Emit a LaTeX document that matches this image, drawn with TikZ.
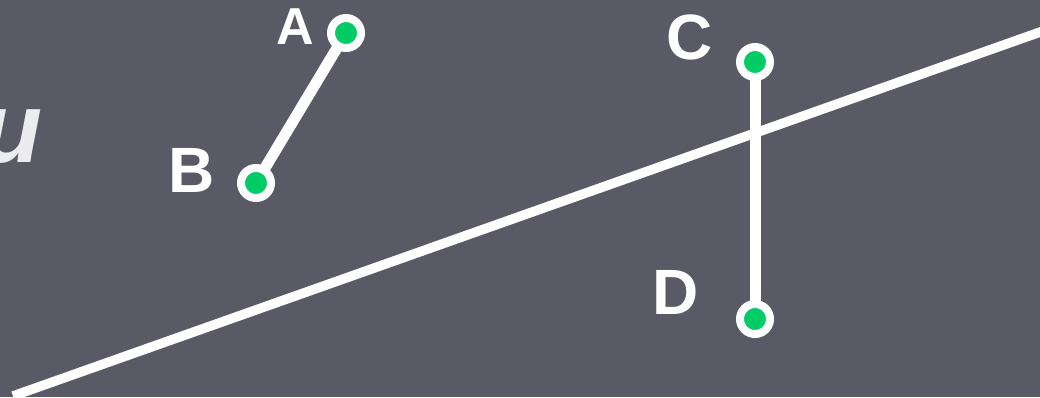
\documentclass[tikz,border=0pt]{standalone}
\usepackage{fontspec}
\setmainfont{Liberation Sans}
\definecolor{bg}{RGB}{90,90,102}
\definecolor{dotgreen}{RGB}{0,204,102}
\definecolor{offwhite}{RGB}{236,236,238}
\begin{document}
\begin{tikzpicture}[x=1pt,y=-1pt,
  seg/.style={draw=white,line width=11pt},
  longline/.style={draw=white,line width=9.5pt},
  pt/.style={circle,fill=dotgreen,draw=white,line width=8pt,minimum size=30pt,inner sep=0pt},
  lbl/.style={text=white,font=\fontsize{64}{64}\selectfont\bfseries,inner sep=0pt,anchor=center}]
\fill[bg] (0,0) rectangle (1040,397);
\useasboundingbox (0,0) rectangle (1040,397);
\begin{scope}
\clip (0,0) rectangle (1040,397);
\coordinate (L1) at (13,396);
\coordinate (L2) at (1060,25);
\draw[longline] (L1) -- (L2);
\node[text=offwhite,font=\fontsize{100}{100}\selectfont\bfseries\itshape,anchor=base east,inner sep=0pt] (u) at (43,162) {u};
\end{scope}
\coordinate (cA) at (346,33);
\coordinate (cB) at (256,183);
\coordinate (cC) at (755,62);
\coordinate (cD) at (755,319);
\draw[seg] (cA) -- (cB);
\draw[seg] (cC) -- (cD);
\node[pt] (A) at (cA) {};
\node[pt] (B) at (cB) {};
\node[pt] (C) at (cC) {};
\node[pt] (D) at (cD) {};
\node[lbl,font=\fontsize{52}{52}\selectfont\bfseries] (lA) at (295.5,27) {A};
\node[lbl] (lB) at (192,170) {B};
\node[lbl] (lC) at (690,37) {C};
\node[lbl] (lD) at (676,292) {D};
\end{tikzpicture}
\end{document}
